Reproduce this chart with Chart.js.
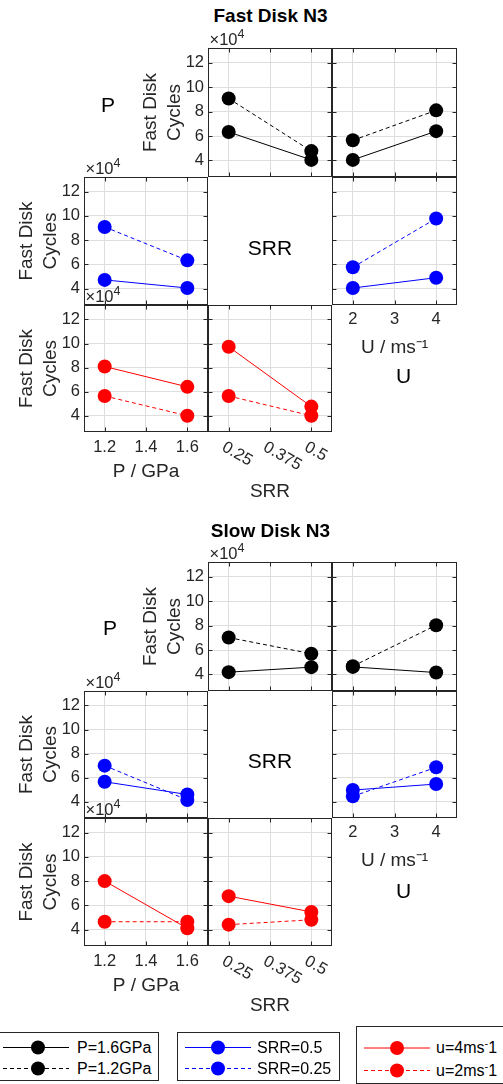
<!DOCTYPE html>
<html>
<head>
<meta charset="utf-8">
<script src="https://cdn.jsdelivr.net/npm/chart.js@4.4.1/dist/chart.umd.min.js"></script>
<style>
  html, body { margin: 0; padding: 0; background: #fff; }
  #page { position: relative; width: 503px; height: 1084px; overflow: hidden;
          font-family: "Liberation Sans", Arial, Helvetica, sans-serif; color: #000; }
  #page canvas { position: absolute; }
  .txt { position: absolute; white-space: nowrap; line-height: 1; }
  .legend { position: absolute; border: 1px solid #262626; background: #fff; box-sizing: border-box; }
  .legend svg { position: absolute; left: 0; top: 0; }
  .legend .lab { position: absolute; font-size: 16px; line-height: 1; transform: translateY(-50%); white-space: nowrap; }
  sup { font-size: 12.5px; vertical-align: 0; position: relative; top: -7px; }
  .legend sup { font-size: 11px; top: -6px; }
</style>
</head>
<body>
<div id="page"></div>
<script>
// ---- factor levels and axis ticks ----
const pLevels = [1.2, 1.6];          // contact pressure, GPa
const srrLevels = [0.25, 0.5];       // slide-roll ratio
const uLevels = [2, 4];              // entrainment speed, m/s
const pTicks = [1.2, 1.4, 1.6];
const srrTicks = [0.25, 0.375, 0.5];
const uTicks = [2, 3, 4];
const cycleTicks = [4, 6, 8, 10, 12];  // ×10^4 cycles

// ---- Fast Disk N3: mean cycles (×10^4) ----
const fastSrrP16 = [6.33, 4.05];   // x = SRR, P = 1.6 GPa
const fastSrrP12 = [9.07, 4.77];   // x = SRR, P = 1.2 GPa
const fastUP16 = [4.05, 6.40];     // x = U, P = 1.6 GPa
const fastUP12 = [5.65, 8.10];     // x = U, P = 1.2 GPa
const fastPSrr05 = [4.72, 4.05];   // x = P, SRR = 0.5
const fastPSrr025 = [9.08, 6.33];  // x = P, SRR = 0.25
const fastUSrr05 = [4.05, 4.90];   // x = U, SRR = 0.5
const fastUSrr025 = [5.76, 9.78];  // x = U, SRR = 0.25
const fastPU4 = [8.09, 6.40];      // x = P, u = 4 m/s
const fastPU2 = [5.64, 4.00];      // x = P, u = 2 m/s
const fastSrrU4 = [9.73, 4.76];    // x = SRR, u = 4 m/s
const fastSrrU2 = [5.64, 4.00];    // x = SRR, u = 2 m/s

// ---- Slow Disk N3: mean cycles (×10^4) ----
const slowSrrP16 = [4.19, 4.60];
const slowSrrP12 = [7.02, 5.70];
const slowUP16 = [4.62, 4.16];
const slowUP12 = [4.68, 8.03];
const slowPSrr05 = [5.66, 4.60];
const slowPSrr025 = [7.00, 4.15];
const slowUSrr05 = [4.97, 5.47];
const slowUSrr025 = [4.45, 6.86];
const slowPU4 = [8.00, 4.11];
const slowPU2 = [4.65, 4.65];
const slowSrrU4 = [6.76, 5.46];
const slowSrrU2 = [4.41, 4.81];

// ---- legend entries ----
const legendP = ['P=1.6GPa', 'P=1.2GPa'];
const legendSrr = ['SRR=0.5', 'SRR=0.25'];
const legendU = ['u=4ms<sup>-</sup>1', 'u=2ms<sup>-</sup>1'];

// ---- styling ----
const FONT = '"Liberation Sans", Arial, Helvetica, sans-serif';
const INK = '#262626';
const GRID = '#dedede';
const BLACK = '#000000', BLUE = '#0000ff', RED = '#ff0000';
const DASH = [4, 3];

Chart.defaults.font.family = FONT;
Chart.defaults.color = INK;

const page = document.getElementById('page');
const PL = 76, PR = 8, PT = 20, PB = 80;  // canvas margin round each plot box

const axisDefs = {
  P:   { levels: pLevels,   min: 1.1,    max: 1.7,    ticks: pTicks,   title: 'P / GPa',  fmt: v => v.toFixed(1), pad: 6, xh: 51 },
  SRR: { levels: srrLevels, min: 0.1875, max: 0.5625, ticks: srrTicks, title: 'SRR',      fmt: v => String(v),   pad: 6, xh: 71 },
  U:   { levels: uLevels,   min: 1.5,    max: 4.5,    ticks: uTicks,   title: 'U / ms⁻¹', fmt: v => String(v),   pad: 5, xh: 54 }
};

// box outline with inward tick marks on all four sides
const framePlugin = {
  id: 'frame',
  afterDraw(chart) {
    const { ctx, chartArea: a, scales: { x, y } } = chart;
    const L = Math.round(a.left) + 0.5, R = Math.round(a.right) - 0.5;
    const T = Math.round(a.top) + 0.5, B = Math.round(a.bottom) - 0.5;
    ctx.save();
    ctx.strokeStyle = INK;
    ctx.lineWidth = 1;
    ctx.strokeRect(L, T, R - L, B - T);
    ctx.beginPath();
    x.ticks.forEach(t => {
      const px = Math.round(x.getPixelForValue(t.value)) + 0.5;
      ctx.moveTo(px, T); ctx.lineTo(px, T + 4);
      ctx.moveTo(px, B); ctx.lineTo(px, B - 4);
    });
    y.ticks.forEach(t => {
      const py = Math.round(y.getPixelForValue(t.value)) + 0.5;
      ctx.moveTo(L, py); ctx.lineTo(L + 4, py);
      ctx.moveTo(R, py); ctx.lineTo(R - 4, py);
    });
    ctx.stroke();
    ctx.restore();
  }
};

// slanted SRR tick labels, placed from the x scale
const slantTickPlugin = {
  id: 'slantTicks',
  afterDraw(chart) {
    const { ctx, chartArea: a, scales: { x } } = chart;
    ctx.save();
    ctx.font = '16.5px ' + FONT;
    ctx.fillStyle = INK;
    ctx.textAlign = 'left';
    ctx.textBaseline = 'middle';
    x.ticks.forEach(t => {
      const px = x.getPixelForValue(t.value);
      ctx.save();
      ctx.translate(px - 5.5, a.bottom + 14);
      ctx.rotate(Math.PI / 6);
      ctx.fillText(String(t.value), 0, 0);
      ctx.restore();
    });
    ctx.restore();
  }
};

function panel(left, top, w, h, kind, series, opt) {
  const ax = axisDefs[kind];
  const yw = opt.yLabels ? 70 : 0;
  const xh = opt.xLabels ? ax.xh : 0;
  const c = document.createElement('canvas');
  c.width = PL + w + PR;
  c.height = PT + h + PB;
  c.style.left = (left - PL) + 'px';
  c.style.top = (top - PT) + 'px';
  c.style.width = c.width + 'px';
  c.style.height = c.height + 'px';
  page.appendChild(c);

  const plugins = [framePlugin];
  if (kind === 'SRR' && opt.xLabels) plugins.push(slantTickPlugin);

  new Chart(c, {
    type: 'line',
    data: {
      datasets: series.map(s => ({
        data: ax.levels.map((lv, i) => ({ x: lv, y: s.values[i] })),
        borderColor: s.color,
        backgroundColor: s.color,
        borderWidth: 1,
        borderDash: s.dashed ? DASH : [],
        pointRadius: 7,
        pointBorderWidth: 0,
        pointBackgroundColor: s.color,
        tension: 0,
        fill: false
      }))
    },
    options: {
      responsive: false,
      animation: false,
      devicePixelRatio: 1,
      events: [],
      layout: { autoPadding: false, padding: { left: PL - yw, right: PR, top: PT, bottom: PB - xh } },
      plugins: { legend: { display: false }, tooltip: { enabled: false } },
      scales: {
        x: {
          type: 'linear', min: ax.min, max: ax.max,
          afterBuildTicks: s => { s.ticks = ax.ticks.map(v => ({ value: v })); },
          afterFit: s => { s.height = xh; },
          grid: { color: GRID, drawTicks: false },
          border: { display: false },
          ticks: { display: opt.xLabels && kind !== 'SRR', autoSkip: false, maxRotation: 0,
                   padding: ax.pad, font: { size: 16.5 }, color: INK, callback: v => ax.fmt(v) },
          title: { display: !!opt.xLabels, text: ax.title, font: { size: 19 }, color: INK, padding: { top: 0, bottom: 0 } }
        },
        y: {
          type: 'linear', min: 2.65, max: 13.2,
          afterBuildTicks: s => { s.ticks = cycleTicks.map(v => ({ value: v })); },
          afterFit: s => { s.width = yw; },
          grid: { color: GRID, drawTicks: false },
          border: { display: false },
          ticks: { display: !!opt.yLabels, padding: 4, font: { size: 16.5 }, color: INK, callback: v => String(v) },
          title: { display: !!opt.yLabels, text: ['Fast Disk', 'Cycles'], font: { size: 19, lineHeight: 1.3 },
                   color: INK, padding: { top: 0, bottom: 0 } }
        }
      }
    },
    plugins
  });
}

function text(html, x, y, css, anchor) {
  const d = document.createElement('div');
  d.className = 'txt';
  d.innerHTML = html;
  d.style.left = x + 'px';
  d.style.top = y + 'px';
  d.style.transform = anchor === 'left' ? 'translateY(-50%)' : 'translate(-50%, -50%)';
  Object.assign(d.style, css);
  page.appendChild(d);
}

const colX = [84, 208, 332, 457];

function matrix(rows, d, title, titleY, diag) {
  const cw = i => colX[i + 1] - colX[i];
  const rh = i => rows[i + 1] - rows[i];
  // row 0: grouped by P
  panel(colX[1], rows[0], cw(1), rh(0), 'SRR',
    [{ values: d.srrP16, color: BLACK }, { values: d.srrP12, color: BLACK, dashed: true }], { yLabels: true });
  panel(colX[2], rows[0], cw(2), rh(0), 'U',
    [{ values: d.uP16, color: BLACK }, { values: d.uP12, color: BLACK, dashed: true }], {});
  // row 1: grouped by SRR
  panel(colX[0], rows[1], cw(0), rh(1), 'P',
    [{ values: d.pSrr05, color: BLUE }, { values: d.pSrr025, color: BLUE, dashed: true }], { yLabels: true });
  panel(colX[2], rows[1], cw(2), rh(1), 'U',
    [{ values: d.uSrr05, color: BLUE }, { values: d.uSrr025, color: BLUE, dashed: true }], { xLabels: true });
  // row 2: grouped by U
  panel(colX[0], rows[2], cw(0), rh(2), 'P',
    [{ values: d.pU4, color: RED }, { values: d.pU2, color: RED, dashed: true }], { yLabels: true, xLabels: true });
  panel(colX[1], rows[2], cw(1), rh(2), 'SRR',
    [{ values: d.srrU4, color: RED }, { values: d.srrU2, color: RED, dashed: true }], { xLabels: true });

  text(title, 270.5, titleY, { fontSize: '19px', fontWeight: 'bold' });
  const exp = '×10<sup>4</sup>';
  text(exp, colX[1] + 1.5, rows[0] - 9, { fontSize: '16.5px', color: INK }, 'left');
  text(exp, colX[0] + 1.5, rows[1] - 9, { fontSize: '16.5px', color: INK }, 'left');
  text(exp, colX[0] + 1.5, rows[2] - 9, { fontSize: '16.5px', color: INK }, 'left');
  text('P', diag.p[0], diag.p[1], { fontSize: '21px' });
  text('SRR', diag.srr[0], diag.srr[1], { fontSize: '21px' });
  text('U', diag.u[0], diag.u[1], { fontSize: '21px' });
}

matrix([48, 177, 305, 432], {
  srrP16: fastSrrP16, srrP12: fastSrrP12, uP16: fastUP16, uP12: fastUP12,
  pSrr05: fastPSrr05, pSrr025: fastPSrr025, uSrr05: fastUSrr05, uSrr025: fastUSrr025,
  pU4: fastPU4, pU2: fastPU2, srrU4: fastSrrU4, srrU2: fastSrrU2
}, 'Fast Disk N3', 15, { p: [108, 103.5], srr: [270, 246.5], u: [403.5, 375] });

matrix([562, 691, 818, 946], {
  srrP16: slowSrrP16, srrP12: slowSrrP12, uP16: slowUP16, uP12: slowUP12,
  pSrr05: slowPSrr05, pSrr025: slowPSrr025, uSrr05: slowUSrr05, uSrr025: slowUSrr025,
  pU4: slowPU4, pU2: slowPU2, srrU4: slowSrrU4, srrU2: slowSrrU2
}, 'Slow Disk N3', 529.5, { p: [110, 626.5], srr: [270, 760], u: [403.5, 889.5] });

// ---- legend boxes ----
function legendBox(left, top, width, height, color, labels, rowsY, lineX, dotX, textX) {
  const box = document.createElement('div');
  box.className = 'legend';
  Object.assign(box.style, { left: left + 'px', top: top + 'px', width: width + 'px', height: height + 'px' });
  const ns = 'http://www.w3.org/2000/svg';
  const svg = document.createElementNS(ns, 'svg');
  svg.setAttribute('width', width);
  svg.setAttribute('height', height);
  labels.forEach((lab, i) => {
    const y = rowsY[i] - top - 1;
    const ln = document.createElementNS(ns, 'line');
    ln.setAttribute('x1', lineX[0] - left - 1);
    ln.setAttribute('x2', lineX[1] - left - 1);
    ln.setAttribute('y1', y);
    ln.setAttribute('y2', y);
    ln.setAttribute('stroke', color);
    ln.setAttribute('stroke-width', 1);
    if (i === 1) ln.setAttribute('stroke-dasharray', DASH.join(' '));
    svg.appendChild(ln);
    const dot = document.createElementNS(ns, 'circle');
    dot.setAttribute('cx', dotX - left - 1);
    dot.setAttribute('cy', y);
    dot.setAttribute('r', 7);
    dot.setAttribute('fill', color);
    svg.appendChild(dot);
    const t = document.createElement('div');
    t.className = 'lab';
    t.innerHTML = lab;
    t.style.left = (textX - left - 1) + 'px';
    t.style.top = y + 'px';
    box.appendChild(t);
  });
  box.insertBefore(svg, box.firstChild);
  page.appendChild(box);
}

legendBox(-1, 1032, 160, 49, BLACK, legendP, [1047.5, 1068.5], [3, 69], 38, 77);
legendBox(177, 1032, 163, 49, BLUE, legendSrr, [1047.5, 1068.5], [185, 251], 218, 257);
legendBox(356, 1026, 170, 58, RED, legendU, [1048, 1070.5], [364, 430], 397, 436);
</script>
</body>
</html>
